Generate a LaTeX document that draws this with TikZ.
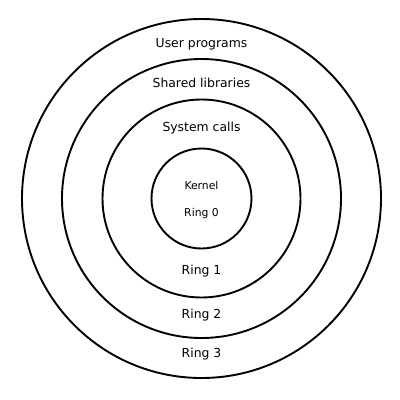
\documentclass[tikz,border=0pt]{standalone}
\usepackage{fontspec}
\setmainfont{DejaVu Sans}
\begin{document}
\begin{tikzpicture}[x=1pt,y=-1pt,
  ring/.style={draw=black,line width=1.9pt,circle,inner sep=0pt,fill=none},
  big/.style={font=\fontsize{12.4}{14}\selectfont,inner sep=0pt},
  small/.style={font=\fontsize{10.8}{12}\selectfont,inner sep=0pt}]
\useasboundingbox (0,0) rectangle (400,400);
\fill[white] (0,0) rectangle (400,400);
\coordinate (c) at (201.5,198.5);
\node[ring,minimum size=359pt] (r3) at (c) {};
\node[ring,minimum size=279pt] (r2) at (c) {};
\node[ring,minimum size=198pt] (r1) at (c) {};
\node[ring,minimum size=100pt] (r0) at (c) {};
\node[big] (user) at (201.5,44.5) {User programs};
\node[big] (shared) at (201.5,82.5) {Shared libraries};
\node[big] (sys) at (201.5,128.5) {System calls};
\node[small] (kern) at (201.5,185.5) {Kernel};
\node[small] (ring0) at (201.5,213.5) {Ring 0};
\node[big] (ring1) at (201.5,271.5) {Ring 1};
\node[big] (ring2) at (201.5,315.5) {Ring 2};
\node[big] (ring3) at (201.5,354.5) {Ring 3};
\end{tikzpicture}
\end{document}
